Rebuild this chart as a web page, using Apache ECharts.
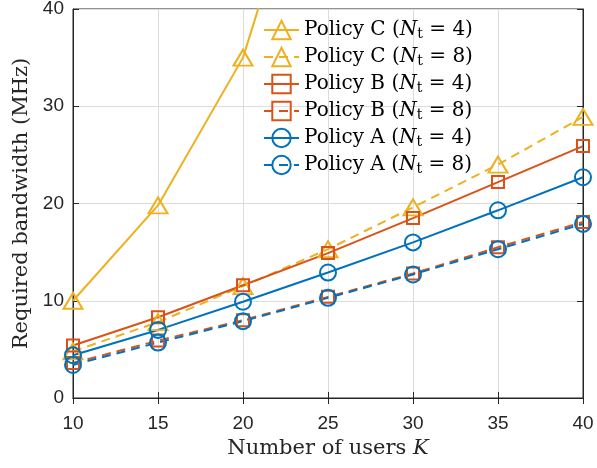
<!DOCTYPE html>
<html>
<head>
<meta charset="utf-8">
<script src="https://cdn.jsdelivr.net/npm/echarts@6/dist/echarts.min.js"></script>
<style>html,body{margin:0;padding:0;background:#fff}#chart{width:597px;height:468px}</style>
</head>
<body>
<div id="chart"></div>
<script>
// Data
const usersK = [10, 15, 20, 25, 30, 35, 40];
const policyC_Nt4 = [10.0, 19.8, 35.0, 63.0];
const policyC_Nt8 = [4.8, 7.8, 11.5, 15.3, 19.6, 24.0, 28.9];
const policyB_Nt4 = [5.4, 8.3, 11.6, 14.9, 18.5, 22.2, 25.9];
const policyB_Nt8 = [3.6, 5.9, 8.0, 10.4, 12.8, 15.5, 18.1];
const policyA_Nt4 = [4.4, 7.0, 9.9, 12.9, 16.0, 19.3, 22.7];
const policyA_Nt8 = [3.4, 5.7, 7.9, 10.3, 12.7, 15.3, 17.9];
const xTicks = [10, 15, 20, 25, 30, 35, 40];
const yTicks = [0, 10, 20, 30, 40];

const YELLOW = '#EDB120', RED = '#D95319', BLUE = '#0072BD';
const SERIF = '"DejaVu Serif","Liberation Serif",serif';
const SANS = '"Liberation Sans",Arial,sans-serif';

function pairs(vals) { return vals.map((v, i) => [usersK[i], v]); }

function mk(name, vals, color, symbol, size, dashed) {
  return {
    name: name,
    type: 'line',
    data: pairs(vals),
    symbol: symbol,
    symbolSize: size,
    showAllSymbol: true,
    clip: true,
    color: color,
    lineStyle: { color: color, width: 2, type: dashed ? [9, 6] : 'solid' },
    itemStyle: { color: 'rgba(255,255,255,0)', borderColor: color, borderWidth: 2 },
    emphasis: { disabled: true },
    animation: false
  };
}

const series = [
  mk('Policy C|4', policyC_Nt4, YELLOW, 'triangle', [19, 16], false),
  mk('Policy C|8', policyC_Nt8, YELLOW, 'triangle', [19, 16], true),
  mk('Policy B|4', policyB_Nt4, RED, 'rect', 12, false),
  mk('Policy B|8', policyB_Nt8, RED, 'rect', 12, true),
  mk('Policy A|4', policyA_Nt4, BLUE, 'circle', 16, false),
  mk('Policy A|8', policyA_Nt8, BLUE, 'circle', 16, true)
];

const axisDark = '#262626';
const chart = echarts.init(document.getElementById('chart'), null, { renderer: 'canvas' });
chart.setOption({
  animation: false,
  backgroundColor: '#fff',
  grid: { left: 73, right: 14, top: 9, bottom: 70, containLabel: false, outerBoundsMode: 'none',
          show: true, borderColor: axisDark, borderWidth: 1, backgroundColor: 'transparent' },
  legend: {
    orient: 'vertical',
    left: 263,
    top: 19,
    padding: 0,
    itemWidth: 35,
    itemHeight: 23,
    itemGap: 5,
    data: series.map(s => s.name),
    formatter: function (name) {
      const p = name.split('|');
      return '{a|' + p[0] + ' (}{i|N}{s|t}{a| = ' + p[1] + ')}';
    },
    textStyle: {
      fontFamily: SERIF, fontSize: 20, color: '#000',
      rich: {
        a: { fontFamily: SERIF, fontSize: 20, color: '#000', lineHeight: 23 },
        i: { fontFamily: SERIF, fontSize: 20, fontStyle: 'italic', color: '#000', lineHeight: 23 },
        s: { fontFamily: SERIF, fontSize: 14, color: '#000', lineHeight: 23, padding: [8, 0, 0, 0] }
      }
    }
  },
  xAxis: [{
    type: 'value', min: 10, max: 40, interval: 5,
    name: 'Number of users {i|K}', nameLocation: 'middle', nameGap: 38,
    nameTextStyle: {
      fontFamily: SERIF, fontSize: 21, color: '#262626',
      rich: { i: { fontFamily: SERIF, fontSize: 21, fontStyle: 'italic', color: '#262626' } }
    },
    axisLine: { show: true, lineStyle: { color: axisDark, width: 1 } },
    axisTick: { show: true, inside: true, length: 6, lineStyle: { color: axisDark } },
    axisLabel: { fontFamily: SANS, fontSize: 19, color: '#262626', margin: 16 },
    splitLine: { show: true, lineStyle: { color: '#dcdcdc', width: 1 } }
  }, {
    type: 'value', min: 10, max: 40, interval: 5, position: 'top',
    axisLine: { show: true, lineStyle: { color: axisDark, width: 1 } },
    axisTick: { show: true, inside: true, length: 6, lineStyle: { color: axisDark } },
    axisLabel: { show: false }, splitLine: { show: false }
  }],
  yAxis: [{
    type: 'value', min: 0, max: 40, interval: 10,
    name: 'Required bandwidth (MHz)', nameLocation: 'middle', nameGap: 40, nameRotate: 90,
    nameTextStyle: { fontFamily: SERIF, fontSize: 21, color: '#262626' },
    axisLine: { show: true, lineStyle: { color: axisDark, width: 1 } },
    axisTick: { show: true, inside: true, length: 6, lineStyle: { color: axisDark } },
    axisLabel: { fontFamily: SANS, fontSize: 19, color: '#262626', margin: 9 },
    splitLine: { show: true, lineStyle: { color: '#dcdcdc', width: 1 } }
  }, {
    type: 'value', min: 0, max: 40, interval: 10, position: 'right',
    axisLine: { show: true, lineStyle: { color: axisDark, width: 1 } },
    axisTick: { show: true, inside: true, length: 6, lineStyle: { color: axisDark } },
    axisLabel: { show: false }, splitLine: { show: false }
  }],
  series: series
});
</script>
</body>
</html>
